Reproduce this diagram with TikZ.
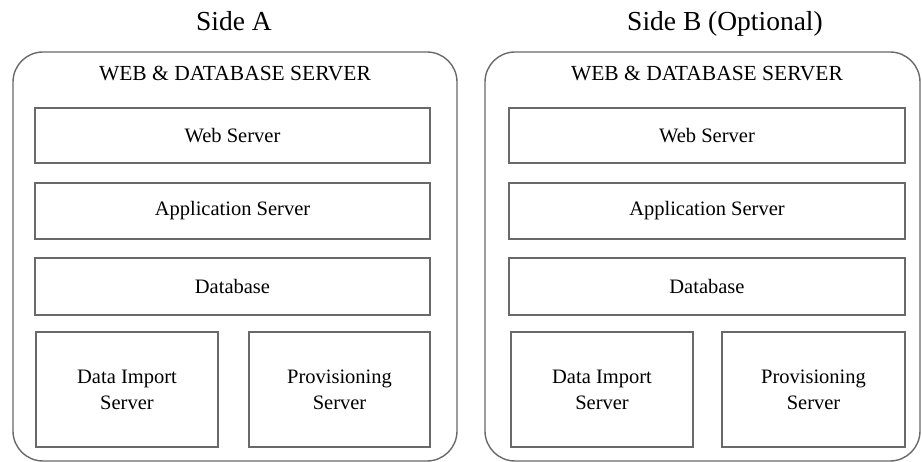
\documentclass[tikz,border=0pt]{standalone}
\usepackage{fontspec}
\setmainfont{Liberation Serif}
\definecolor{linegray}{RGB}{105,105,105}
\begin{document}
\begin{tikzpicture}[x=1pt,y=-1pt,
  outerbox/.style={draw=linegray, line width=1.4pt, rounded corners=30pt, inner sep=0pt, outer sep=0pt},
  innerbox/.style={draw=linegray, line width=1.4pt, inner sep=0pt, outer sep=0pt, align=center,
    font=\fontsize{20.5}{26}\selectfont},
  titletext/.style={font=\fontsize{21.5}{24}\selectfont, inner sep=0pt, anchor=base},
  sidetext/.style={font=\fontsize{27.5}{30}\selectfont, inner sep=0pt, anchor=base}]
\useasboundingbox (0,0) rectangle (922,462);
% Side A
\node[sidetext] (sideA) at (234,31) {Side A};
\node[outerbox, minimum width=444pt, minimum height=409pt] (outA) at (235,256.5) {};
\node[titletext] (titleA) at (235,81) {WEB \& DATABASE SERVER};
\node[innerbox, minimum width=395pt, minimum height=55pt] (webA) at (232.5,135.5) {Web Server};
\node[innerbox, minimum width=395pt, minimum height=56pt] (appA) at (232.5,211) {Application Server};
\node[innerbox, minimum width=395pt, minimum height=57pt] (dbA) at (232.5,286.5) {Database};
\node[innerbox, minimum width=182pt, minimum height=115pt] (dataA) at (127,389.5) {Data Import\\Server};
\node[innerbox, minimum width=181pt, minimum height=115pt] (provA) at (339.5,389.5) {Provisioning\\Server};
% Side B
\node[sidetext] (sideB) at (725,31) {Side B (Optional)};
\node[outerbox, minimum width=435pt, minimum height=409pt] (outB) at (702.5,256.5) {};
\node[titletext] (titleB) at (707,81) {WEB \& DATABASE SERVER};
\node[innerbox, minimum width=396pt, minimum height=55pt] (webB) at (707,135.5) {Web Server};
\node[innerbox, minimum width=396pt, minimum height=56pt] (appB) at (707,211) {Application Server};
\node[innerbox, minimum width=396pt, minimum height=57pt] (dbB) at (707,286.5) {Database};
\node[innerbox, minimum width=182pt, minimum height=115pt] (dataB) at (602,389.5) {Data Import\\Server};
\node[innerbox, minimum width=183pt, minimum height=115pt] (provB) at (813.5,389.5) {Provisioning\\Server};
\end{tikzpicture}
\end{document}
